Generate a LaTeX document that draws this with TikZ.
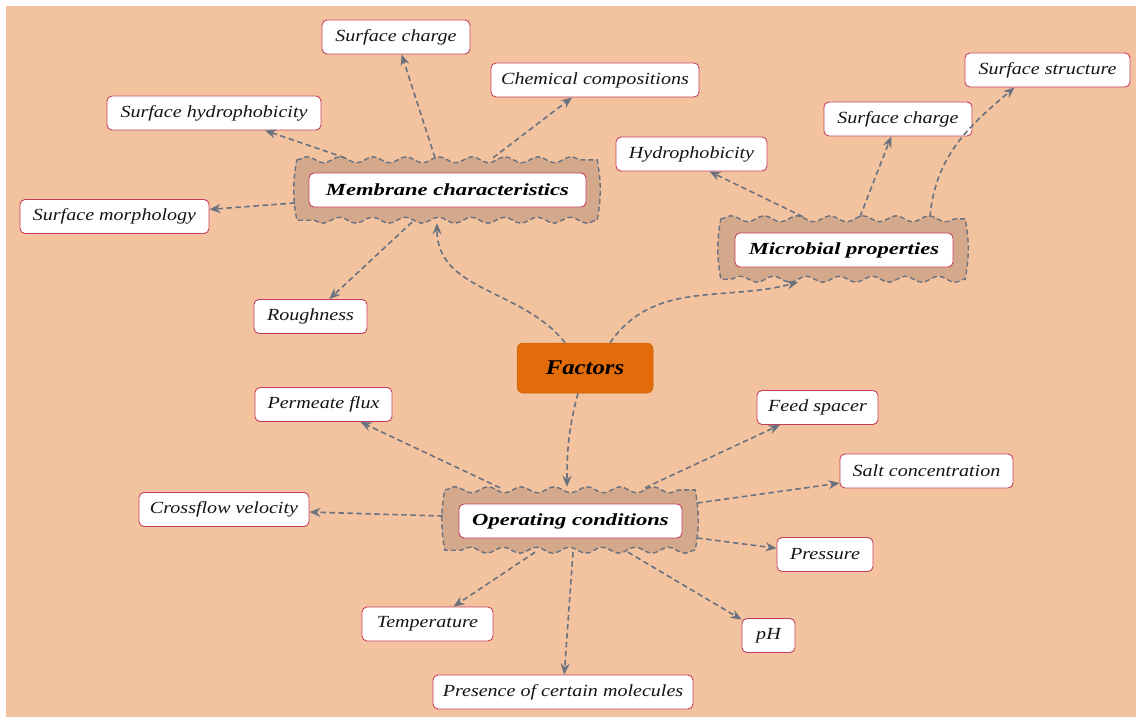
\documentclass[tikz,border=0pt]{standalone}
\usepackage{fontspec}
\setmainfont{Liberation Serif}[FakeStretch=1.18]
\newfontfamily\headfont{Liberation Serif}[FakeStretch=1.33]
\usetikzlibrary{arrows.meta,decorations.pathmorphing,calc}
\definecolor{bgpeach}{HTML}{F3C3A0}
\definecolor{wavyfill}{HTML}{D4A98B}
\definecolor{conncol}{HTML}{6A7280}
\definecolor{leafborder}{HTML}{C4405A}
\definecolor{factorfill}{HTML}{E36C0A}
\definecolor{txt}{HTML}{141414}
\tikzset{
  leaf/.style={draw=leafborder, fill=white, rounded corners=5pt, line width=0.9pt,
    minimum height=34pt, inner sep=0pt, text=txt,
    font=\fontsize{17}{20}\selectfont\itshape},
  head/.style={draw=leafborder, fill=white, rounded corners=5pt, line width=0.9pt,
    minimum height=34pt, inner sep=0pt, text=black,
    font=\headfont\fontsize{17}{20}\selectfont\bfseries\itshape},
  factorbox/.style={fill=factorfill, draw=factorfill!90!black, line width=0.5pt,
    rounded corners=6pt, minimum width=136pt, minimum height=50pt, inner sep=0pt,
    text=black, font=\fontsize{21}{24}\selectfont\bfseries\itshape},
  wavyarea/.style={inner sep=0pt, minimum height=60pt},
  wavy/.style={draw=conncol, fill=wavyfill, line width=1.4pt, dash pattern=on 5pt off 3pt,
    decoration={snake, segment length=33pt, amplitude=3pt}},
  conn/.style={draw=conncol, line width=1.6pt, dash pattern=on 5.5pt off 3.5pt,
    -{Stealth[length=11pt, width=9pt]}},
}
\begin{document}
\begin{tikzpicture}[x=1pt, y=-1pt]
\useasboundingbox (0,0) rectangle (1136,717);
\fill[white] (0,0) rectangle (1136,717);
\fill[bgpeach] (6,6) rectangle (1136,717);

% wavy group areas
\node[wavyarea, minimum width=300pt] (membW) at (447,190) {};
\node[wavyarea, minimum width=244pt] (microW) at (843,249) {};
\node[wavyarea, minimum width=250pt] (opW) at (570,520) {};
\foreach \w in {membW, microW, opW}{
  \path[wavy] (\w.north west) decorate{-- (\w.north east)}
    to[bend left=10] (\w.south east) decorate{-- (\w.south west)}
    to[bend left=10] (\w.north west) -- cycle;
}

% heads
\node[head, minimum width=277pt] (memb) at (447.5,190) {Membrane characteristics};
\node[head, minimum width=218pt] (micro) at (844,250) {Microbial properties};
\node[head, minimum width=223pt] (op) at (570.5,521) {Operating conditions};
\node[factorbox] (fac) at (585,368) {Factors};

% leaves
\node[leaf, minimum width=148pt] (sc1) at (396,37) {Surface charge};
\node[leaf, minimum width=208pt] (chem) at (595,80) {Chemical compositions};
\node[leaf, minimum width=214pt] (shyd) at (214,113) {Surface hydrophobicity};
\node[leaf, minimum width=189pt] (smorph) at (114.5,216.5) {Surface morphology};
\node[leaf, minimum width=113pt] (rough) at (310.5,316.5) {Roughness};
\node[leaf, minimum width=151pt] (hyd) at (691.5,154) {Hydrophobicity};
\node[leaf, minimum width=148pt] (sc2) at (898,119) {Surface charge};
\node[leaf, minimum width=165pt] (sstr) at (1047.5,70) {Surface structure};
\node[leaf, minimum width=137pt] (perm) at (323.5,404.5) {Permeate flux};
\node[leaf, minimum width=121pt] (feed) at (817.5,407.5) {Feed spacer};
\node[leaf, minimum width=173pt] (salt) at (926.5,471) {Salt concentration};
\node[leaf, minimum width=170pt] (cross) at (224,509.5) {Crossflow velocity};
\node[leaf, minimum width=96pt] (press) at (825,554.5) {Pressure};
\node[leaf, minimum width=131pt] (temp) at (427.5,624) {Temperature};
\node[leaf, minimum width=53pt] (ph) at (768.5,635.5) {pH};
\node[leaf, minimum width=260pt] (pres) at (563,692) {Presence of certain molecules};

% connectors: membrane characteristics
\draw[conn] ($(membW.north)+(-12,-2)$) -- (sc1);
\draw[conn] ($(membW.north)+(46,-2)$) -- (chem);
\draw[conn] ($(membW.north)+(-102,-2)$) -- (shyd);
\draw[conn] ($(membW.west)+(-2,13)$) -- (smorph);
\draw[conn] ($(membW.south)+(-35,2)$) -- (rough);

% connectors: microbial properties
\draw[conn] ($(microW.north)+(-40,-2)$) -- ($(hyd.south)+(18,0)$);
\draw[conn] ($(microW.north)+(17,-2)$) -- (sc2);
\draw[conn] ($(microW.north)+(87,-2)$) to[out=85, in=220] ($(sstr.south west)+(50,0)$);

% connectors: factors
\draw[conn] ($(fac.north)+(-20,0)$) to[out=128, in=-90] ($(membW.south)+(-10,3)$);
\draw[conn] ($(fac.north)+(25,0)$) to[out=55, in=195] ($(microW.south)+(-45,3)$);
\draw[conn] ($(fac.south)+(-7,0)$) to[out=-105, in=90] ($(opW.north)+(-3,-3)$);

% connectors: operating conditions
\draw[conn] ($(opW.north)+(-70,-2)$) -- (perm);
\draw[conn] ($(opW.north)+(75,-2)$) -- (feed);
\draw[conn] ($(opW.east)+(2,-17)$) -- (salt);
\draw[conn] ($(opW.west)+(-2,-4)$) -- (cross);
\draw[conn] ($(opW.east)+(2,18)$) -- (press);
\draw[conn] ($(opW.south)+(-35,2)$) -- (temp);
\draw[conn] ($(opW.south)+(58,2)$) -- (ph);
\draw[conn] ($(opW.south)+(3,2)$) -- (pres);
\end{tikzpicture}
\end{document}
